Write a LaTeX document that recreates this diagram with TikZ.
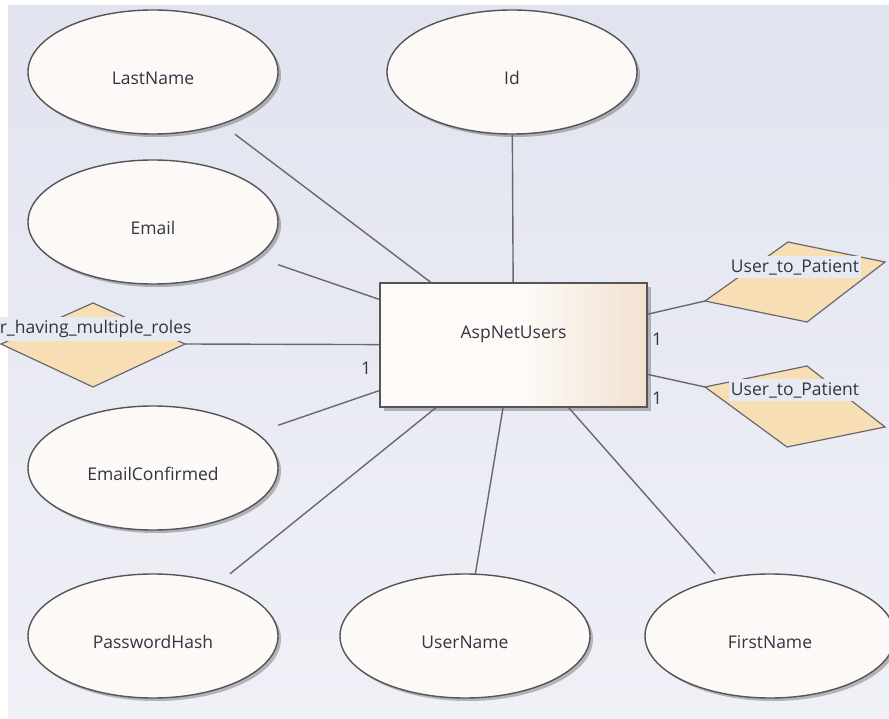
\documentclass[tikz,border=0pt]{standalone}
\usepackage{fontspec}
\setmainfont{Open Sans}
\usetikzlibrary{shapes.geometric,shadows}

\definecolor{bgtop}{RGB}{225,227,239}
\definecolor{bgbot}{RGB}{240,241,247}
\definecolor{lbl}{RGB}{231,233,243}
\definecolor{attrfill}{RGB}{252,249,246}
\definecolor{edgegray}{RGB}{85,85,88}
\definecolor{linegray}{RGB}{105,105,108}
\definecolor{relfill}{RGB}{248,222,180}
\definecolor{txt}{RGB}{50,52,66}
\definecolor{boxl}{RGB}{253,250,247}
\definecolor{boxr}{RGB}{242,225,207}

% entity fill: plain on the left, warming towards the right edge
\pgfdeclarehorizontalshading{entityshade}{100bp}{color(0bp)=(boxl); color(25bp)=(boxl); color(52bp)=(boxl); color(75bp)=(boxr); color(100bp)=(boxr)}

\newcommand\dfont{\fontsize{17.5pt}{21pt}\selectfont}

\tikzset{
  attr/.style={ellipse, draw=edgegray, line width=1.4pt, fill=attrfill,
    minimum width=250pt, minimum height=124pt, inner sep=0pt,
    text height=25pt, text depth=0pt, font=\dfont, text=txt,
    drop shadow={shadow xshift=3pt, shadow yshift=-3pt, fill=black, opacity=0.25}},
  frame/.style={rectangle, minimum width=250pt, minimum height=124pt, inner sep=0pt},
  entity/.style={rectangle, draw=edgegray, line width=1.6pt, shading=entityshade,
    minimum width=267pt, minimum height=124pt, inner sep=0pt,
    text height=12pt, text depth=26pt, font=\dfont, text=txt,
    drop shadow={shadow xshift=4pt, shadow yshift=-4pt, fill=black, opacity=0.25}},
  conn/.style={draw=linegray, line width=1.4pt},
  rel/.style={fill=relfill, draw=linegray, line width=1.2pt, line join=miter},
  rellabel/.style={fill=lbl, inner xsep=2pt, inner ysep=3pt, font=\dfont, text=txt},
  card/.style={font=\dfont, text=txt, inner sep=0pt}
}

\begin{document}
\begin{tikzpicture}[x=1pt, y=-1pt]
\useasboundingbox (0,0) rectangle (889,719);
\clip (0,0) rectangle (889,719);
\fill[white] (0,0) rectangle (889,719);
\shade[top color=bgtop, bottom color=bgbot] (8,6) rectangle (889,719);

% attribute ellipses
\node[attr] (lastname)  at (153,72)  {LastName};
\node[attr] (id)        at (512,72)  {Id};
\node[attr] (email)     at (153,222) {Email};
\node[attr] (emailconf) at (153,468) {EmailConfirmed};
\node[attr] (pwdhash)   at (153,636) {PasswordHash};
\node[attr] (username)  at (465,636) {UserName};
\node[attr] (firstname) at (770,636) {FirstName};

% bounding frames of the ellipses, where the connectors stop
\foreach \n in {lastname,id,email,emailconf,pwdhash,username,firstname}
  \node[frame] (\n-f) at (\n) {};

% entity
\node[entity] (users) at (513.5,345) {AspNetUsers};

% relationships
\draw[rel] (788,242) -- (885,262) -- (807,322) -- (705,301) coordinate (relA) -- cycle;
\draw[rel] (807,366) -- (885,427) -- (787,447) -- (705,387) coordinate (relB) -- cycle;
\draw[rel] (93,303) -- (185,344) coordinate (relC) -- (93,387) -- (1,344) -- cycle;

\node[rellabel] (relAlbl) at (795,267) {User\_to\_Patient};
\node[rellabel] (relBlbl) at (795,390) {User\_to\_Patient};
\node[rellabel, text width=206pt, align=left, anchor=east] (relClbl) at (208,329) {r\_having\_multiple\_roles};

% connectors
\foreach \n in {lastname,id,email,emailconf,pwdhash,username,firstname}
  \draw[conn] (\n-f) -- (users);
\draw[conn] (users) -- (relA);
\draw[conn] (users) -- (relB);
\draw[conn] (relC) -- (users);

% cardinalities
\node[card] (cardA) at (657,339) {1};
\node[card] (cardB) at (657,398) {1};
\node[card] (cardC) at (366,368) {1};
\end{tikzpicture}
\end{document}
